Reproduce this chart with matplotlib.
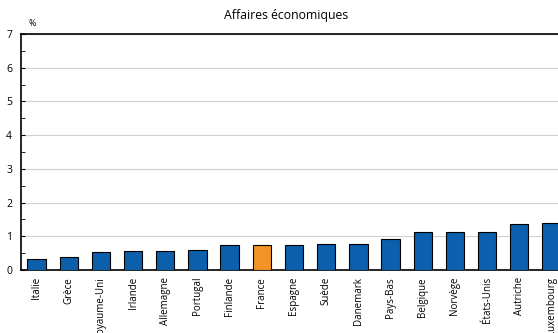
import matplotlib.pyplot as plt
from matplotlib.ticker import MultipleLocator

pays = ['Italie', 'Grèce', 'Royaume-Uni', 'Irlande', 'Allemagne', 'Portugal',
        'Finlande', 'France', 'Espagne', 'Suède', 'Danemark', 'Pays-Bas',
        'Belgique', 'Norvège', 'États-Unis', 'Autriche', 'Luxembourg']
valeurs = [0.32, 0.39, 0.54, 0.55, 0.57, 0.59, 0.73, 0.73, 0.74, 0.76,
           0.78, 0.91, 1.12, 1.12, 1.14, 1.37, 1.40]
couleurs = ['#F39325' if p == 'France' else '#0B5FAD' for p in pays]

plt.rcParams['font.family'] = ['Open Sans', 'DejaVu Sans']

fig = plt.figure(figsize=(5.58, 3.33), dpi=100)
ax = fig.add_axes([20.5 / 558, 63 / 333, 547 / 558, 236 / 333])

x = range(len(pays))
ax.bar(x, valeurs, width=0.57, color=couleurs, edgecolor='black', linewidth=0.8, zorder=3)

ax.set_xlim(-0.5, len(pays) - 0.5)
ax.set_ylim(0, 7)
ax.yaxis.set_major_locator(MultipleLocator(1))
ax.yaxis.set_minor_locator(MultipleLocator(0.5))
ax.grid(axis='y', color='#d0d0d0', linewidth=0.8, zorder=0)

ax.set_xticks(list(x))
ax.set_xticklabels(pays, rotation=90, fontsize=7)
ax.tick_params(axis='x', length=0, pad=5)
ax.tick_params(axis='y', which='both', direction='in', length=3, labelsize=7.5, pad=6)

for s in ['top', 'left', 'bottom']:
    ax.spines[s].set_color('black')
    ax.spines[s].set_linewidth(1.2)
ax.spines['right'].set_visible(False)

fig.text(286 / 558, 1 - 16 / 333, 'Affaires économiques', ha='center', va='center', fontsize=8.8)
fig.text(32 / 558, 1 - 23 / 333, '%', ha='center', va='center', fontsize=6.5)

fig.savefig('out.png', dpi=100)
